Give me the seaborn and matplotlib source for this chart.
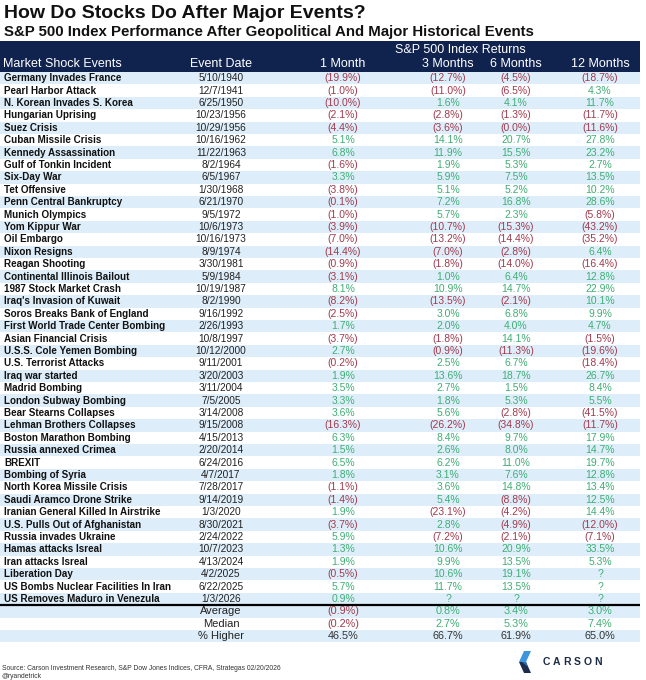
import numpy as np
import pandas as pd
import seaborn as sns
import matplotlib.pyplot as plt
from matplotlib.colors import ListedColormap
from matplotlib.patches import Polygon

# table data
events = ["Germany Invades France", "Pearl Harbor Attack", "N. Korean Invades S. Korea",
          "Hungarian Uprising", "Suez Crisis", "Cuban Missile Crisis", "Kennedy Assassination",
          "Gulf of Tonkin Incident", "Six-Day War", "Tet Offensive", "Penn Central Bankruptcy",
          "Munich Olympics", "Yom Kippur War", "Oil Embargo", "Nixon Resigns", "Reagan Shooting",
          "Continental Illinois Bailout", "1987 Stock Market Crash", "Iraq's Invasion of Kuwait",
          "Soros Breaks Bank of England", "First World Trade Center Bombing",
          "Asian Financial Crisis", "U.S.S. Cole Yemen Bombing", "U.S. Terrorist Attacks",
          "Iraq war started", "Madrid Bombing", "London Subway Bombing", "Bear Stearns Collapses",
          "Lehman Brothers Collapses", "Boston Marathon Bombing", "Russia annexed Crimea",
          "BREXIT", "Bombing of Syria", "North Korea Missile Crisis", "Saudi Aramco Drone Strike",
          "Iranian General Killed In Airstrike", "U.S. Pulls Out of Afghanistan",
          "Russia invades Ukraine", "Hamas attacks Isreal", "Iran attacks Isreal",
          "Liberation Day", "US Bombs Nuclear Facilities In Iran", "US Removes Maduro in Venezula"]

dates = ["5/10/1940", "12/7/1941", "6/25/1950", "10/23/1956", "10/29/1956", "10/16/1962",
         "11/22/1963", "8/2/1964", "6/5/1967", "1/30/1968", "6/21/1970", "9/5/1972",
         "10/6/1973", "10/16/1973", "8/9/1974", "3/30/1981", "5/9/1984", "10/19/1987",
         "8/2/1990", "9/16/1992", "2/26/1993", "10/8/1997", "10/12/2000", "9/11/2001",
         "3/20/2003", "3/11/2004", "7/5/2005", "3/14/2008", "9/15/2008", "4/15/2013",
         "2/20/2014", "6/24/2016", "4/7/2017", "7/28/2017", "9/14/2019", "1/3/2020",
         "8/30/2021", "2/24/2022", "10/7/2023", "4/13/2024", "4/2/2025", "6/22/2025", "1/3/2026"]

ret_1m = [-19.9, -1.0, -10.0, -2.1, -4.4, 5.1, 6.8, -1.6, 3.3, -3.8, -0.1, -1.0, -3.9, -7.0,
          -14.4, -0.9, -3.1, 8.1, -8.2, -2.5, 1.7, -3.7, 2.7, -0.2, 1.9, 3.5, 3.3, 3.6, -16.3,
          6.3, 1.5, 6.5, 1.8, -1.1, -1.4, 1.9, -3.7, 5.9, 1.3, 1.9, -0.5, 5.7, 0.9]
ret_3m = [-12.7, -11.0, 1.6, -2.8, -3.6, 14.1, 11.9, 1.9, 5.9, 5.1, 7.2, 5.7, -10.7, -13.2,
          -7.0, -1.8, 1.0, 10.9, -13.5, 3.0, 2.0, -1.8, -0.9, 2.5, 13.6, 2.7, 1.8, 5.6, -26.2,
          8.4, 2.6, 6.2, 3.1, 3.6, 5.4, -23.1, 2.8, -7.2, 10.6, 9.9, 10.6, 11.7, None]
ret_6m = [-4.5, -6.5, 4.1, -1.3, -0.0, 20.7, 15.5, 5.3, 7.5, 5.2, 16.8, 2.3, -15.3, -14.4,
          -2.8, -14.0, 6.4, 14.7, -2.1, 6.8, 4.0, 14.1, -11.3, 6.7, 18.7, 1.5, 5.3, -2.8, -34.8,
          9.7, 8.0, 11.0, 7.6, 14.8, -8.8, -4.2, -4.9, -2.1, 20.9, 13.5, 19.1, 13.5, None]
ret_12m = [-18.7, 4.3, 11.7, -11.7, -11.6, 27.8, 23.2, 2.7, 13.5, 10.2, 28.6, -5.8, -43.2,
           -35.2, 6.4, -16.4, 12.8, 22.9, 10.1, 9.9, 4.7, -1.5, -19.6, -18.4, 26.7, 8.4, 5.5,
           -41.5, -11.7, 17.9, 14.7, 19.7, 12.8, 13.4, 12.5, 14.4, -12.0, -7.1, 33.5, 5.3,
           None, None, None]

summary_labels = ["Average", "Median", "% Higher"]
sum_1m = [-0.9, -0.2, 46.5]
sum_3m = [0.8, 2.7, 66.7]
sum_6m = [3.4, 5.3, 61.9]
sum_12m = [3.0, 7.4, 65.0]

period_labels = ["1 Month", "3 Months", "6 Months", "12 Months"]

navy = "#10234f"
stripe = "#ddeefa"
red = "#a03a4c"
green = "#3fae74"

sns.set_theme(style="white")
plt.rcParams["font.family"] = ["Liberation Sans", "DejaVu Sans"]

W, H = 646, 680
fig = plt.figure(figsize=(W / 100, H / 100), dpi=100)


def fy(y):
    return 1 - y / H


table_top, head_h, row_h, table_w = 41, 31, 12.4, 640
n_ev = len(events)
n_rows = n_ev + len(summary_labels)
body_top = table_top + head_h
body_bot = body_top + n_rows * row_h

col_date = 221 / table_w
col_x = [343 / table_w, 448 / table_w, 516 / table_w, 600 / table_w]

# header band
hax = fig.add_axes([0, fy(body_top), table_w / W, head_h / H])
sns.heatmap(np.zeros((1, 1)), cmap=ListedColormap([navy]), cbar=False,
            xticklabels=False, yticklabels=False, ax=hax)
hax.text(460 / table_w, 0.72, "S&P 500 Index Returns", transform=hax.transAxes,
         ha="center", va="center", color="white", fontsize=9)
hax.text(3 / table_w, 0.25, "Market Shock Events", transform=hax.transAxes,
         ha="left", va="center", color="white", fontsize=9)
hax.text(col_date, 0.25, "Event Date", transform=hax.transAxes,
         ha="center", va="center", color="white", fontsize=9)
for x, lab in zip(col_x, period_labels):
    hax.text(x, 0.25, lab, transform=hax.transAxes, ha="center", va="center",
             color="white", fontsize=9)

# striped body
shade = [i % 2 for i in range(n_ev)] + [i % 2 for i in range(len(summary_labels))]
bax = fig.add_axes([0, fy(body_bot), table_w / W, (body_bot - body_top) / H])
sns.heatmap(pd.DataFrame({"shade": shade}), cmap=ListedColormap([stripe, "white"]),
            vmin=0, vmax=1, cbar=False, xticklabels=False, yticklabels=False, ax=bax)
tr = bax.get_yaxis_transform()


def fmt(v):
    if v is None:
        return "?", green
    if np.signbit(v):
        return f"({abs(v):.1f}%)", red
    return f"{v:.1f}%", green


for i in range(n_ev):
    y = i + 0.5
    bax.text(4 / table_w, y, events[i], transform=tr, ha="left", va="center",
             fontsize=7.1, fontweight="bold", color="#111111")
    bax.text(col_date, y, dates[i], transform=tr, ha="center", va="center",
             fontsize=7.3, color="#222222")
    for x, col in zip(col_x, [ret_1m, ret_3m, ret_6m, ret_12m]):
        s, c = fmt(col[i])
        bax.text(x, y, s, transform=tr, ha="center", va="center", fontsize=7.5, color=c)

bax.axhline(n_ev, color="black", lw=1.6)

for j, lab in enumerate(summary_labels):
    y = n_ev + j + 0.5
    bax.text(col_date, y, lab, transform=tr, ha="center", va="center",
             fontsize=8, color="#222222")
    for x, col in zip(col_x, [sum_1m, sum_3m, sum_6m, sum_12m]):
        if lab == "% Higher":
            s, c = f"{col[j]:.1f}%", "#333333"
        else:
            s, c = fmt(col[j])
        bax.text(x, y, s, transform=tr, ha="center", va="center", fontsize=7.8, color=c)

# titles
fig.text(4 / W, fy(13), "How Do Stocks Do After Major Events?", ha="left", va="center",
         fontsize=14, fontweight="bold", color="#111111")
fig.text(4 / W, fy(32), "S&P 500 Index Performance After Geopolitical And Major Historical Events",
         ha="left", va="center", fontsize=10.8, fontweight="bold", color="#111111")

# footer
fig.text(2 / W, fy(668), "Source: Carson Investment Research, S&P Dow Jones Indices, CFRA, "
         "Strategas 02/20/2026", ha="left", va="center", fontsize=4.9, color="#333333")
fig.text(2 / W, fy(676), "@ryandetrick", ha="left", va="center", fontsize=4.9,
         color="#333333")

# Carson logo
lax = fig.add_axes([0, 0, 1, 1])
lax.set_xlim(0, W)
lax.set_ylim(H, 0)
lax.axis("off")
lax.add_patch(Polygon([(524, 651), (531, 651), (526, 662), (519, 662)], closed=True,
                      color="#3f94db", lw=0))
lax.add_patch(Polygon([(519, 662), (526, 662), (531, 673), (524, 673)], closed=True,
                      color="#1c2c4c", lw=0))
lax.add_patch(Polygon([(522, 662), (526, 662), (528, 667)], closed=True,
                      color="#2a6fb0", lw=0))
for k, ch in enumerate("CARSON"):
    lax.text(546 + k * 10.4, 662, ch, ha="center", va="center", fontsize=7.5,
             fontweight="bold", color="#1d2b45")

fig.savefig("out.png", dpi=100)
